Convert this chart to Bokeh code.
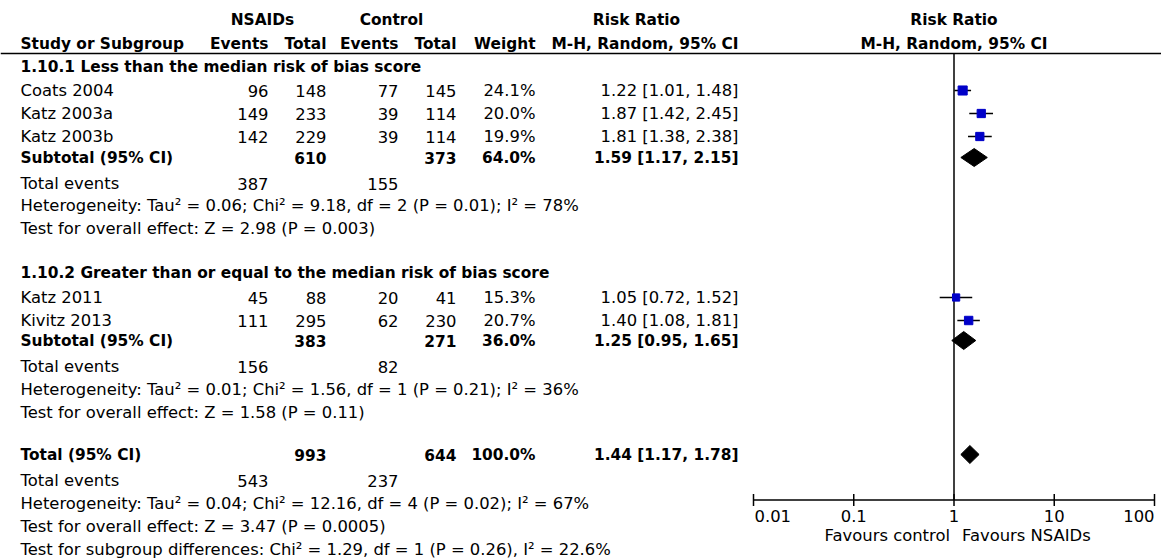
import math

from bokeh.plotting import figure
from bokeh.models import Range1d, LogScale
from bokeh.core.properties import value
from bokeh.embed import file_html
from bokeh.resources import INLINE

# ---- study-level data -------------------------------------------------------
studies = ["Coats 2004", "Katz 2003a", "Katz 2003b", "Katz 2011", "Kivitz 2013"]
nsaid_events = [96, 149, 142, 45, 111]
nsaid_total = [148, 233, 229, 88, 295]
control_events = [77, 39, 39, 20, 62]
control_total = [145, 114, 114, 41, 230]
weights = [24.1, 20.0, 19.9, 15.3, 20.7]
risk_ratio = [1.22, 1.87, 1.81, 1.05, 1.40]
ci_low = [1.01, 1.42, 1.38, 0.72, 1.08]
ci_high = [1.48, 2.45, 2.38, 1.52, 1.81]

# ---- pooled estimates (subgroup 1, subgroup 2, overall) ---------------------
pooled_labels = ["Subtotal (95% CI)", "Subtotal (95% CI)", "Total (95% CI)"]
pooled_nsaid_total = [610, 383, 993]
pooled_control_total = [373, 271, 644]
pooled_weight = [64.0, 36.0, 100.0]
pooled_rr = [1.59, 1.25, 1.44]
pooled_low = [1.17, 0.95, 1.17]
pooled_high = [2.15, 1.65, 1.78]
pooled_nsaid_events = [387, 156, 543]
pooled_control_events = [155, 82, 237]

subgroup_titles = [
    "1.10.1 Less than the median risk of bias score",
    "1.10.2 Greater than or equal to the median risk of bias score",
]
heterogeneity = [
    "Heterogeneity: Tau² = 0.06; Chi² = 9.18, df = 2 (P = 0.01); I² = 78%",
    "Heterogeneity: Tau² = 0.01; Chi² = 1.56, df = 1 (P = 0.21); I² = 36%",
    "Heterogeneity: Tau² = 0.04; Chi² = 12.16, df = 4 (P = 0.02); I² = 67%",
]
overall_effect = [
    "Test for overall effect: Z = 2.98 (P = 0.003)",
    "Test for overall effect: Z = 1.58 (P = 0.11)",
    "Test for overall effect: Z = 3.47 (P = 0.0005)",
]
subgroup_difference = "Test for subgroup differences: Chi² = 1.29, df = 1 (P = 0.26), I² = 22.6%"

axis_ticks = [0.01, 0.1, 1, 10, 100]
axis_tick_labels = ["0.01", "0.1", "1", "10", "100"]
favours_left = "Favours control"
favours_right = "Favours NSAIDs"

# ---- layout (vertical row positions in pixels from the top) ------------------
W, H = 1161, 559
study_y = [90, 113, 136, 297, 320]
pooled_y = [157, 340, 454]
events_y = [183, 366, 480]
het_y = [205, 389, 503]
effect_y = [228, 412, 526]
title_y = [66, 272]
diff_y = 549
AXIS_Y = 499.5
TICK_LABEL_Y = 515
FAVOURS_Y = 535

# column right edges
COL_LABEL = 20
COL_NE, COL_NT, COL_CE, COL_CT, COL_W, COL_RR = 268, 326, 398, 456, 535, 738

# log scale: 1.0 sits at x=953.5, one decade spans 100.25 px
X_ONE, DECADE = 953.5, 100.25
log_lo = 10 ** ((0 - X_ONE) / DECADE)
log_hi = 10 ** ((W - X_ONE) / DECADE)

FONT = value("DejaVu Sans")
FS = "16.4px"
FS_BOLD = "15.4px"
BLUE = "#0000c8"

p = figure(width=W, height=H, x_range=Range1d(0, W), y_range=Range1d(H, 0),
           x_axis_location=None, y_axis_location=None, toolbar_location=None,
           output_backend="svg", min_border=0)
p.extra_x_ranges = {"rr": Range1d(log_lo, log_hi)}
p.extra_x_scales = {"rr": LogScale()}
p.grid.visible = False
p.outline_line_color = None
p.background_fill_color = "white"
p.border_fill_color = "white"


def txt(x, y, texts, align="left", bold=False, rng="default", size=None, x_offset=0):
    p.text(x=x, y=y, text=texts, text_align=align, text_baseline="middle",
           text_font=FONT, text_font_size=size or (FS_BOLD if bold else FS),
           text_font_style="bold" if bold else "normal",
           text_color="black", x_range_name=rng, x_offset=x_offset)


# header
txt([262, 391, 636], [19, 19, 19], ["NSAIDs", "Control", "Risk Ratio"], "center", True)
txt([COL_LABEL], [43], ["Study or Subgroup"], "left", True)
txt([COL_NE, COL_NT, COL_CE, COL_CT, COL_W, COL_RR], [43] * 6,
    ["Events", "Total", "Events", "Total", "Weight", "M-H, Random, 95% CI"], "right", True)
txt([1, 1], [19, 43], ["Risk Ratio", "M-H, Random, 95% CI"], "center", True, "rr")
p.segment(x0=[0], x1=[W], y0=[53], y1=[53], line_color="black", line_width=1.5)

# subgroup titles
txt([COL_LABEL] * 2, title_y, subgroup_titles, "left", True)

# study rows
n = len(studies)
txt([COL_LABEL] * n, study_y, studies)
txt([COL_NE] * n, study_y, [str(v) for v in nsaid_events], "right")
txt([COL_NT] * n, study_y, [str(v) for v in nsaid_total], "right")
txt([COL_CE] * n, study_y, [str(v) for v in control_events], "right")
txt([COL_CT] * n, study_y, [str(v) for v in control_total], "right")
txt([COL_W] * n, study_y, [f"{w:.1f}%" for w in weights], "right")
txt([COL_RR] * n, study_y,
    [f"{r:.2f} [{lo:.2f}, {hi:.2f}]" for r, lo, hi in zip(risk_ratio, ci_low, ci_high)], "right")

# pooled rows
m = len(pooled_labels)
txt([COL_LABEL] * m, pooled_y, pooled_labels, "left", True)
txt([COL_NT] * m, pooled_y, [str(v) for v in pooled_nsaid_total], "right", True)
txt([COL_CT] * m, pooled_y, [str(v) for v in pooled_control_total], "right", True)
txt([COL_W] * m, pooled_y, [f"{w:.1f}%" for w in pooled_weight], "right", True)
txt([COL_RR] * m, pooled_y,
    [f"{r:.2f} [{lo:.2f}, {hi:.2f}]" for r, lo, hi in zip(pooled_rr, pooled_low, pooled_high)],
    "right", True)

# summary statistics
txt([COL_LABEL] * m, events_y, ["Total events"] * m)
txt([COL_NE] * m, events_y, [str(v) for v in pooled_nsaid_events], "right")
txt([COL_CE] * m, events_y, [str(v) for v in pooled_control_events], "right")
txt([COL_LABEL] * m, het_y, heterogeneity)
txt([COL_LABEL] * m, effect_y, overall_effect)
txt([COL_LABEL], [diff_y], [subgroup_difference])

# forest plot: line of no effect
p.segment(x0=[1], x1=[1], y0=[53], y1=[AXIS_Y], line_color="black", line_width=1.5,
          x_range_name="rr")

# confidence intervals and weighted squares
p.segment(x0=ci_low, x1=ci_high, y0=study_y, y1=study_y, line_color="black",
          line_width=1.5, x_range_name="rr")
p.scatter(x=risk_ratio, y=study_y, marker="square",
          size=[1.85 * math.sqrt(w) for w in weights],
          fill_color=BLUE, line_color=BLUE, x_range_name="rr")

# pooled diamonds
half_h = 9
p.patches(xs=[[lo, r, hi, r] for r, lo, hi in zip(pooled_rr, pooled_low, pooled_high)],
          ys=[[y, y - half_h, y, y + half_h] for y in pooled_y],
          fill_color="black", line_color="black", x_range_name="rr")

# log axis of the forest plot: line, ticks crossing it, labels
p.segment(x0=[axis_ticks[0]], x1=[axis_ticks[-1]], y0=[AXIS_Y], y1=[AXIS_Y],
          line_color="black", line_width=1.5, x_range_name="rr")
p.segment(x0=axis_ticks, x1=axis_ticks, y0=[AXIS_Y - 6] * len(axis_ticks),
          y1=[AXIS_Y + 6] * len(axis_ticks), line_color="black", line_width=1.5,
          x_range_name="rr")
txt(axis_ticks[:1], [TICK_LABEL_Y], axis_tick_labels[:1], "left", rng="rr", x_offset=1)
txt(axis_ticks[1:-1], [TICK_LABEL_Y] * (len(axis_ticks) - 2), axis_tick_labels[1:-1],
    "center", rng="rr")
txt(axis_ticks[-1:], [TICK_LABEL_Y], axis_tick_labels[-1:], "right", rng="rr")
txt([1], [FAVOURS_Y], [favours_left], "right", rng="rr", x_offset=-4)
txt([1], [FAVOURS_Y], [favours_right], "left", rng="rr", x_offset=8)

open("out.html", "w").write(file_html(p, INLINE))
